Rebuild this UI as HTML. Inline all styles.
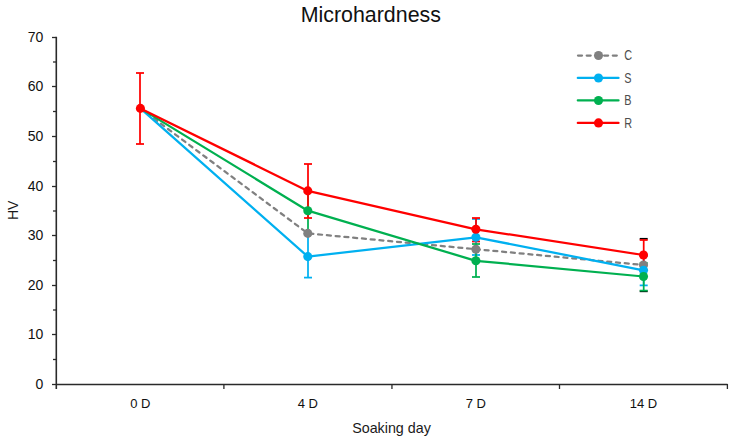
<!DOCTYPE html>
<html><head><meta charset="utf-8"><style>
html,body{margin:0;padding:0;background:#fff;}
body{width:733px;height:443px;overflow:hidden;font-family:"Liberation Sans",sans-serif;}
svg{display:block;}
text{font-family:"Liberation Sans",sans-serif;}
</style></head><body>
<svg width="733" height="443" viewBox="0 0 733 443">
<rect width="733" height="443" fill="#fff"/>
<g stroke="#2a2a2a" stroke-width="1.3" fill="none">
<path d="M56.3 36.8 V389" stroke-width="1.6"/>
<path d="M56 384.5 H727.5"/>
<path d="M52 37.5 H56"/>
<path d="M52 86.5 H56"/>
<path d="M52 136.5 H56"/>
<path d="M52 186.5 H56"/>
<path d="M52 235.5 H56"/>
<path d="M52 285.5 H56"/>
<path d="M52 334.5 H56"/>
<path d="M52 384.5 H56"/>
<path d="M53 62.0 H56"/>
<path d="M53 111.5 H56"/>
<path d="M53 161.5 H56"/>
<path d="M53 211.0 H56"/>
<path d="M53 260.5 H56"/>
<path d="M53 310.0 H56"/>
<path d="M53 359.5 H56"/>
<path d="M223.9 384 V389"/>
<path d="M391.95 384 V389"/>
<path d="M559.5 384 V389"/>
<path d="M727.4 384 V389"/>
</g>
<g font-size="14" fill="#111" text-anchor="end">
<text x="43.4" y="389.1">0</text>
<text x="43.4" y="339.1">10</text>
<text x="43.4" y="290.1">20</text>
<text x="43.4" y="240.1">30</text>
<text x="43.4" y="191.1">40</text>
<text x="43.4" y="141.1">50</text>
<text x="43.4" y="91.1">60</text>
<text x="43.4" y="42.1">70</text>
</g>
<g font-size="13" fill="#111" text-anchor="middle">
<text x="140.4" y="408.2">0 D</text>
<text x="307.8" y="408.2">4 D</text>
<text x="475.9" y="408.2">7 D</text>
<text x="643.5" y="408.2">14 D</text>
</g>
<text x="370.8" y="21.7" font-size="21.4" fill="#111" text-anchor="middle">Microhardness</text>
<text x="391.5" y="432.8" font-size="14.3" fill="#1a1a1a" text-anchor="middle">Soaking day</text>
<text transform="translate(18.2 210.3) rotate(-90)" x="0" y="0" font-size="14" fill="#1a1a1a" text-anchor="middle">HV</text>
<g stroke="#000000" stroke-width="1.75" fill="none"><path d="M639.7 238.8 H647.7"/><path d="M639.7 291.3 H647.7"/></g>
<g stroke="#00b0f0" stroke-width="1.75" fill="none"><path d="M308.0 233.6 V277.6"/><path d="M304.0 233.6 H312.0"/><path d="M304.0 277.6 H312.0"/></g>
<g stroke="#00b0f0" stroke-width="1.75" fill="none"><path d="M476.0 219.0 V255.0"/><path d="M472.0 219.0 H480.0"/><path d="M472.0 255.0 H480.0"/></g>
<g stroke="#00b0f0" stroke-width="1.75" fill="none"><path d="M643.7 256.0 V285.4"/><path d="M639.7 256.0 H647.7"/><path d="M639.7 285.4 H647.7"/></g>
<g stroke="#00b050" stroke-width="1.75" fill="none"><path d="M308.0 192.0 V233.0"/><path d="M304.0 192.0 H312.0"/><path d="M304.0 233.0 H312.0"/></g>
<g stroke="#00b050" stroke-width="1.75" fill="none"><path d="M476.0 244.0 V277.0"/><path d="M472.0 244.0 H480.0"/><path d="M472.0 277.0 H480.0"/></g>
<g stroke="#00b050" stroke-width="1.75" fill="none"><path d="M643.7 263.0 V290.6"/><path d="M639.7 263.0 H647.7"/><path d="M639.7 290.6 H647.7"/></g>
<g stroke="#ff0000" stroke-width="1.75" fill="none"><path d="M140.0 73.0 V144.0"/><path d="M136.0 73.0 H144.0"/><path d="M136.0 144.0 H144.0"/></g>
<g stroke="#ff0000" stroke-width="1.75" fill="none"><path d="M308.0 164.0 V218.0"/><path d="M304.0 164.0 H312.0"/><path d="M304.0 218.0 H312.0"/></g>
<g stroke="#ff0000" stroke-width="1.75" fill="none"><path d="M476.0 218.0 V241.5"/><path d="M472.0 218.0 H480.0"/><path d="M472.0 241.5 H480.0"/></g>
<g stroke="#ff0000" stroke-width="1.75" fill="none"><path d="M643.7 240.0 V270.0"/><path d="M639.7 240.0 H647.7"/><path d="M639.7 270.0 H647.7"/></g>
<polyline points="140.4,108.4 307.8,233.4 475.9,249.2 643.5,265.0" fill="none" stroke="#808080" stroke-width="2.25" stroke-linejoin="round" stroke-dasharray="4.05 4.75" stroke-dashoffset="0.75" stroke-linecap="round"/>
<polyline points="140.4,108.4 307.8,256.6 475.9,237.3 643.5,270.3" fill="none" stroke="#00b0f0" stroke-width="2.25" stroke-linejoin="round"/>
<polyline points="140.4,108.4 307.8,210.7 475.9,260.8 643.5,276.5" fill="none" stroke="#00b050" stroke-width="2.25" stroke-linejoin="round"/>
<polyline points="140.4,108.4 307.8,190.9 475.9,229.3 643.5,255.0" fill="none" stroke="#ff0000" stroke-width="2.25" stroke-linejoin="round"/>
<circle cx="307.8" cy="233.4" r="4.55" fill="#808080"/>
<circle cx="475.9" cy="249.2" r="4.55" fill="#808080"/>
<circle cx="643.5" cy="265.0" r="4.55" fill="#808080"/>
<circle cx="307.8" cy="256.6" r="4.55" fill="#00b0f0"/>
<circle cx="475.9" cy="237.3" r="4.55" fill="#00b0f0"/>
<circle cx="643.5" cy="270.3" r="4.55" fill="#00b0f0"/>
<circle cx="307.8" cy="210.7" r="4.55" fill="#00b050"/>
<circle cx="475.9" cy="260.8" r="4.55" fill="#00b050"/>
<circle cx="643.5" cy="276.5" r="4.55" fill="#00b050"/>
<circle cx="140.4" cy="108.4" r="4.55" fill="#ff0000"/>
<circle cx="307.8" cy="190.9" r="4.55" fill="#ff0000"/>
<circle cx="475.9" cy="229.3" r="4.55" fill="#ff0000"/>
<circle cx="643.5" cy="255.0" r="4.55" fill="#ff0000"/>
<path d="M578 55.5 H617.3" stroke="#808080" stroke-width="2.25" stroke-dasharray="4 4.7" stroke-linecap="round"/>
<circle cx="598.5" cy="55.5" r="4.55" fill="#808080"/>
<text transform="translate(624.2 60.40) scale(0.8 1.04)" font-size="13.6" fill="#4d4d4d">C</text>
<path d="M577.8 77.97 H618.5" stroke="#00b0f0" stroke-width="2.25" stroke-linecap="round"/>
<circle cx="598.5" cy="77.97" r="4.55" fill="#00b0f0"/>
<text transform="translate(624.2 82.87) scale(0.8 1.04)" font-size="13.6" fill="#4d4d4d">S</text>
<path d="M577.8 100.44 H618.5" stroke="#00b050" stroke-width="2.25" stroke-linecap="round"/>
<circle cx="598.5" cy="100.44" r="4.55" fill="#00b050"/>
<text transform="translate(624.2 105.34) scale(0.8 1.04)" font-size="13.6" fill="#4d4d4d">B</text>
<path d="M577.8 122.91 H618.5" stroke="#ff0000" stroke-width="2.25" stroke-linecap="round"/>
<circle cx="598.5" cy="122.91" r="4.55" fill="#ff0000"/>
<text transform="translate(624.2 127.81) scale(0.8 1.04)" font-size="13.6" fill="#4d4d4d">R</text>
</svg>
</body></html>
